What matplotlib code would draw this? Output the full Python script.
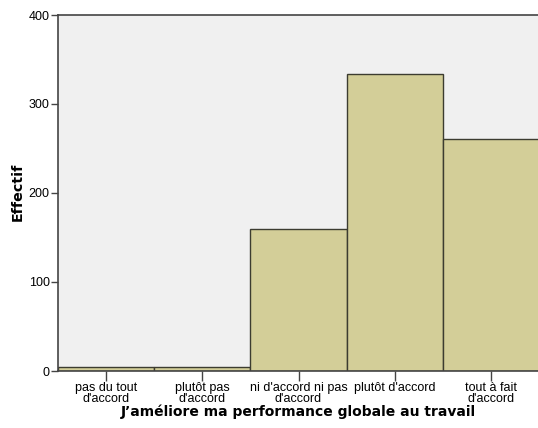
import matplotlib
matplotlib.use("Agg")
import matplotlib.pyplot as plt

categories = ["pas du tout\nd'accord", "plutôt pas\nd'accord", "ni d'accord ni pas\nd'accord",
              "plutôt d'accord", "tout à fait\nd'accord"]
counts = [5, 5, 160, 334, 261]
yticks = [0, 100, 200, 300, 400]

plt.rcParams['font.family'] = ['Liberation Sans', 'DejaVu Sans']

fig = plt.figure(figsize=(5.38, 4.28), dpi=100)
ax = fig.add_axes([58/538, 1-371/428, 1.002-58/538, (371-15)/428])
ax.set_facecolor('#F0F0F0')
x = list(range(len(categories)))
ax.bar(x, counts, width=1.0, color='#D3CE98', edgecolor='#3C3C30', linewidth=1.0)
ax.set_xlim(-0.5, len(categories) - 0.5)
ax.set_ylim(0, 400)
ax.set_yticks(yticks)
ax.set_yticklabels([str(v) for v in yticks], fontsize=9)
ax.set_xticks(x)
ax.set_xticklabels(categories, fontsize=9, linespacing=0.88)
ax.tick_params(axis='y', direction='out', length=5, width=1, color='#444444', pad=1)
ax.tick_params(axis='x', direction='out', length=7, width=1, color='#444444', pad=1)
for s in ['left', 'top', 'bottom', 'right']:
    ax.spines[s].set_color('#444444')
    ax.spines[s].set_linewidth(1.2)
fig.text(18/538, 1-192/428, 'Effectif', rotation=90, ha='center', va='center',
         fontsize=10.3, fontweight='bold', family='DejaVu Sans')
fig.text((58+539)/2/538, 1-412/428, 'J’améliore ma performance globale au travail',
         ha='center', va='center', fontsize=10, fontweight='bold', family='DejaVu Sans')
fig.savefig('out.png', dpi=100)
